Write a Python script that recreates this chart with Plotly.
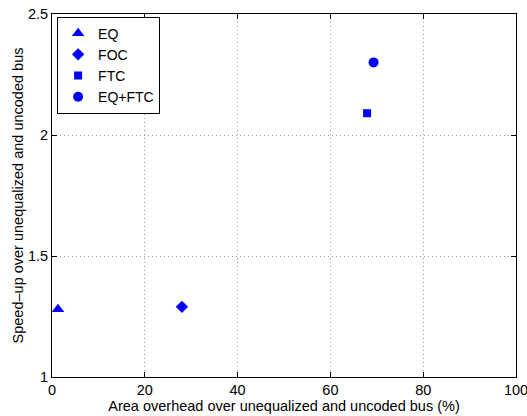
import plotly.graph_objects as go

series_names = ["EQ", "FOC", "FTC", "EQ+FTC"]
area_overhead = [1.3, 28.0, 67.9, 69.3]
speed_up = [1.28, 1.29, 2.09, 2.30]
symbols = ["triangle-up", "diamond", "square", "circle"]
sizes = [11, 9.5, 8, 10]

x_ticks = [0, 20, 40, 60, 80, 100]
y_ticks = [1, 1.5, 2, 2.5]
y_tick_text = ["1", "1.5", "2", "2.5"]

fig = go.Figure()
for name, x, y, sym, sz in zip(series_names, area_overhead, speed_up, symbols, sizes):
    fig.add_trace(go.Scatter(
        x=[x], y=[y], mode="markers", name=name,
        marker=dict(symbol=sym, size=sz, color="#0000ff", line=dict(width=0)),
    ))

font = "Liberation Sans, Arial, Helvetica, sans-serif"
axis_common = dict(
    showline=True, linecolor="black", linewidth=1, mirror="allticks",
    ticks="inside", ticklen=5, tickcolor="black",
    showgrid=True, gridcolor="#999999", griddash="1px,3px", gridwidth=1,
    zeroline=False, tickfont=dict(family=font, size=14.5, color="black"),
    automargin=False, ticklabeloverflow="allow",
)

fig.update_layout(
    width=527, height=416,
    margin=dict(l=52, r=11, t=14, b=39),
    paper_bgcolor="white", plot_bgcolor="white",
    font=dict(family=font, size=14.5, color="black"),
    xaxis=dict(range=[0, 100], tickvals=x_ticks,
               title=dict(text="Area overhead over unequalized and uncoded bus (%)",
                          font=dict(family=font, size=14.5), standoff=2),
               **axis_common),
    yaxis=dict(range=[1, 2.5], tickvals=y_ticks, ticktext=y_tick_text,
               title=dict(text="Speed\u2013up over unequalized and uncoded bus",
                          font=dict(family=font, size=14.5), standoff=0),
               **axis_common),
    legend=dict(x=0.011, y=0.993, xanchor="left", yanchor="top",
                bordercolor="black", borderwidth=1, bgcolor="white",
                font=dict(family=font, size=14), tracegroupgap=0,
                itemwidth=30),
    showlegend=True,
)

fig.write_html("out.html")
